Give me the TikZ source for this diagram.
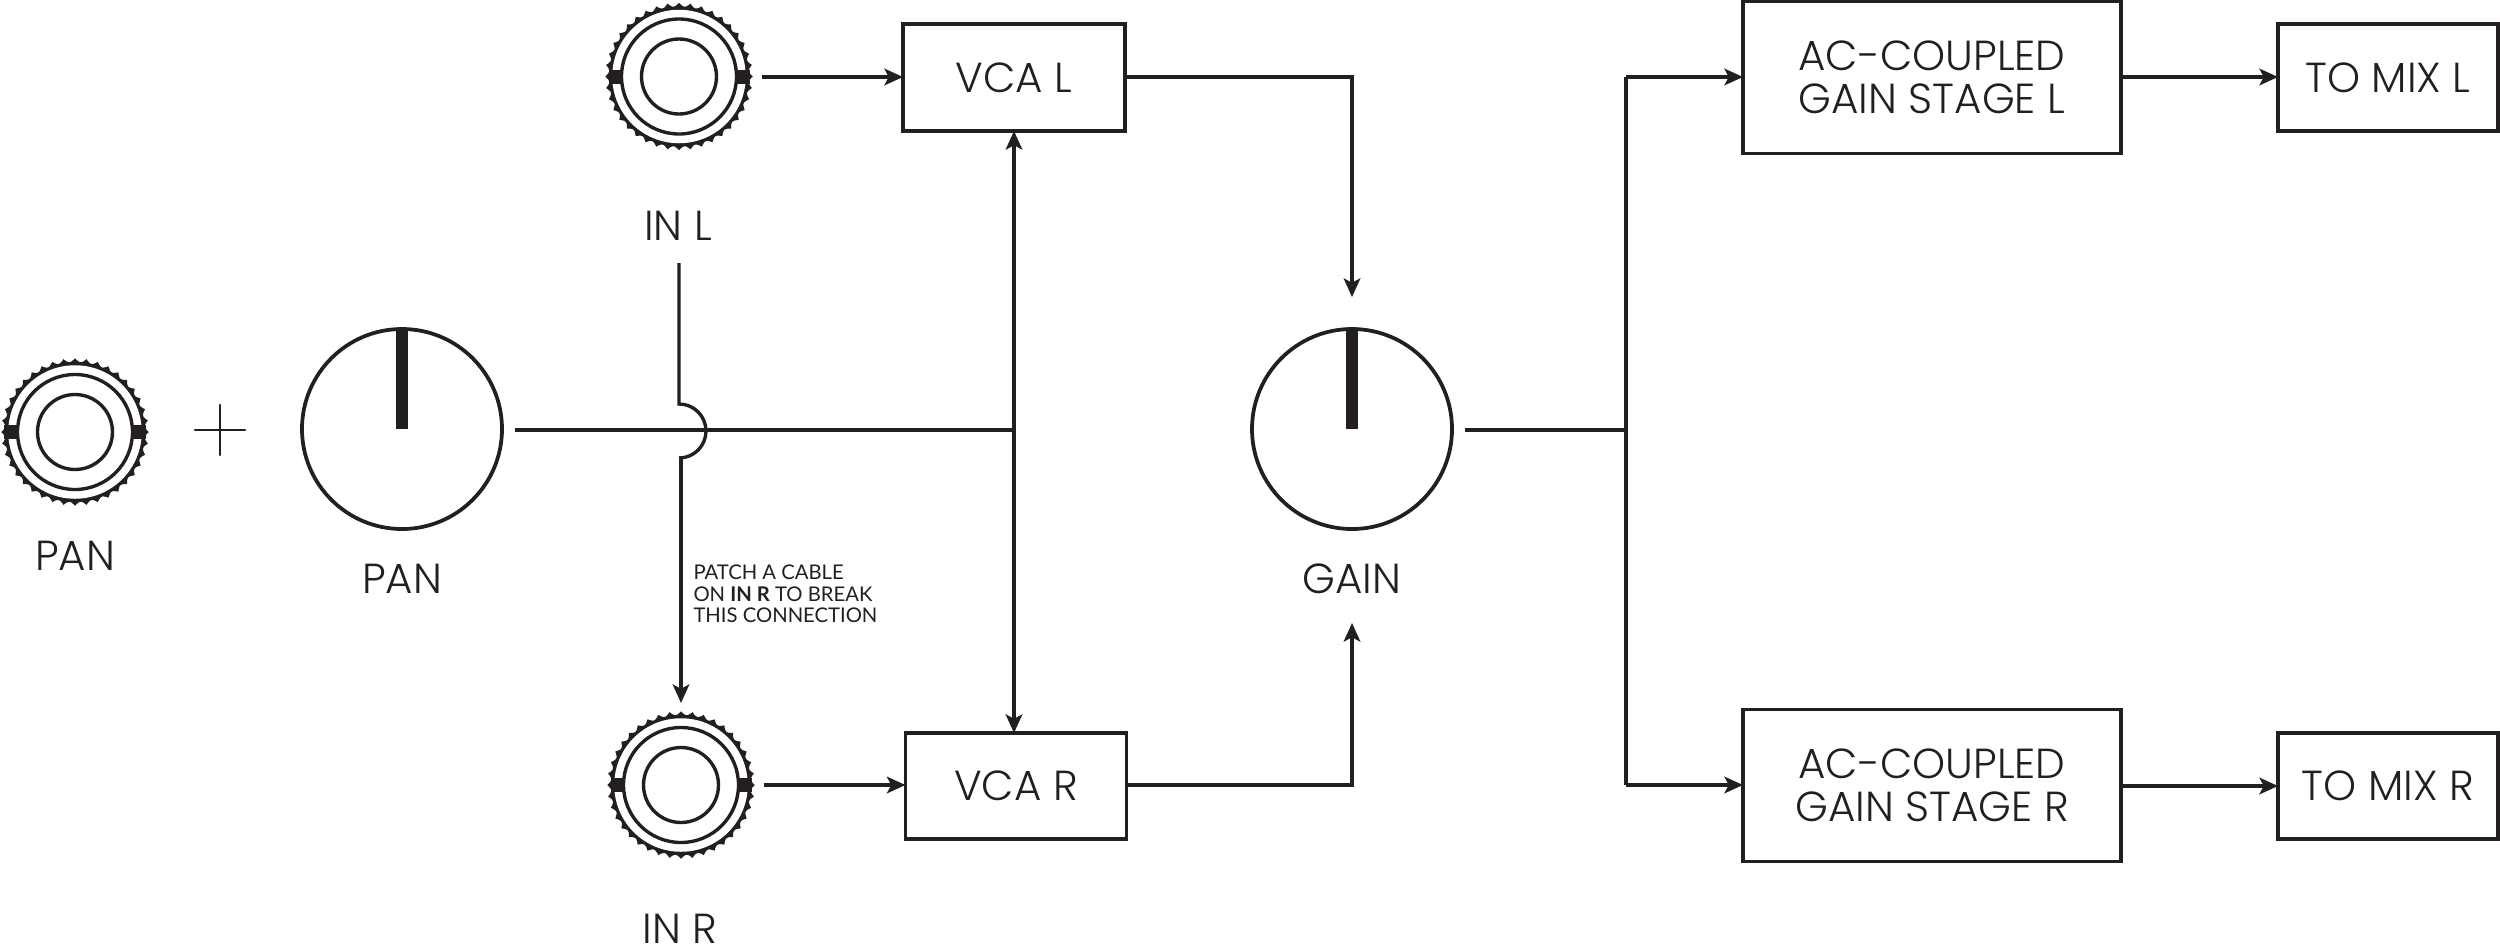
\documentclass[tikz,border=0pt]{standalone}
\usepackage{fontspec}
\setmainfont{Poppins}[UprightFont=* Light,BoldFont=* SemiBold]
\newfontfamily\notefont{Lato}[BoldFont=* Bold]
\usetikzlibrary{arrows.meta}
\definecolor{ink}{HTML}{231F20}
\tikzset{
  wire/.style={draw=ink,line width=1.35pt,line join=miter},
  arrowwire/.style={wire,-{Stealth[length=7.4pt,width=6.6pt,inset=1.7pt]}},
  biwire/.style={wire,{Stealth[length=7.4pt,width=6.6pt,inset=1.7pt]}-{Stealth[length=7.4pt,width=6.6pt,inset=1.7pt]}},
  blockbox/.style={draw=ink,line width=1.25pt,inner sep=0pt,outer sep=0pt,text=ink,align=center,font=\fontsize{16.8}{17.2}\selectfont},
  knobdial/.style={circle,draw=ink,line width=1.5pt,minimum size=80pt,inner sep=0pt,outer sep=0pt},
  caption/.style={text=ink,inner sep=0pt,font=\fontsize{16.8}{17.2}\selectfont,text height=11.8pt,text depth=0pt},
  jacknode/.style={circle,minimum size=56pt,inner sep=0pt,outer sep=0pt},
}
\newcommand{\jackglyph}[2]{%
  \begin{scope}[shift={(#1)}]
    \fill[ink,domain=0:360,samples=361] plot ({(29.5pt-1.5pt*abs(sin(20*\x)))*cos(\x)},{(29.5pt-1.5pt*abs(sin(20*\x)))*sin(\x)}) -- cycle;
    \fill[white] (0,0) circle[radius=26.7pt];
    \draw[ink,line width=1.35pt] (0,0) circle[radius=23pt];
    \node[jacknode,draw=ink,line width=1.35pt,minimum size=30pt] (#2) at (0,0) {};
    \fill[ink] (-28.2pt,-2.8pt) rectangle (-22.6pt,2.8pt);
    \fill[ink] (22.6pt,-2.8pt) rectangle (28.2pt,2.8pt);
  \end{scope}}
\begin{document}
\begin{tikzpicture}[x=0.4pt,y=-0.4pt]
\useasboundingbox (0,0) rectangle (2500,948);
% jacks
\jackglyph{75,432}{jpan}
\jackglyph{679,76.5}{jinl}
\jackglyph{681,785}{jinr}
% plus
\draw[ink,line width=1pt,line cap=round] (195,430) -- (245,430);
\draw[ink,line width=1pt,line cap=round] (220,405) -- (220,455);
% knobs
\node[knobdial] (kpan) at (402,429) {};
\node[knobdial] (kgain) at (1352,429) {};
\fill[ink] (396,329) rectangle (408,429);
\fill[ink] (1346,329) rectangle (1358,429);
% boxes
\node[blockbox,minimum width=88.8pt,minimum height=42.8pt] (vcal) at (1014,77.5) {VCA L};
\node[blockbox,minimum width=88.4pt,minimum height=42.4pt] (vcar) at (1016,786) {VCA R};
\node[blockbox,minimum width=151.2pt,minimum height=60.8pt] (acl) at (1932,77.5) {AC-COUPLED\\GAIN STAGE L};
\node[blockbox,minimum width=151.2pt,minimum height=60.8pt] (acr) at (1932,785.5) {AC-COUPLED\\GAIN STAGE R};
\node[blockbox,minimum width=88pt,minimum height=42.8pt] (mixl) at (2388,77.5) {TO MIX L};
\node[blockbox,minimum width=88pt,minimum height=42.4pt] (mixr) at (2388,786) {TO MIX R};
% captions
\node[caption] (lpan) at (75,556) {PAN};
\node[caption] (lpank) at (402,579) {PAN};
\node[caption] (lgain) at (1352,579) {GAIN};
\node[caption] (linl) at (678,226) {IN L};
\node[caption] (linr) at (680,929) {IN R};
\node[text=ink,inner sep=0pt,anchor=west,align=left,font=\notefont\fontsize{8.1}{8.6}\selectfont] (note) at (693,594) {PATCH A CABLE\\ON \textbf{IN R} TO BREAK\\THIS CONNECTION};
% free ends
\coordinate (panout) at (515,430);
\coordinate (junc) at (1014,430);
\coordinate (inlout) at (762,77);
\coordinate (inrout) at (764,785);
\coordinate (bridgetop) at (679,404);
\coordinate (breakstart) at (679,263);
\coordinate (bridgelow) at (681,458);
\coordinate (breakend) at (681,703);
\coordinate (gainin) at (1352,297);
\coordinate (gainin2) at (1352,623);
\coordinate (lcorner) at (1352,77);
\coordinate (rcorner) at (1352,785);
\coordinate (gainout) at (1465,430);
\coordinate (split) at (1626,430);
\coordinate (splitl) at (1626,77);
\coordinate (splitr) at (1626,785);
% connectors
\draw[wire] (panout) -- (junc);
\draw[biwire] (vcal.south -| junc) -- (vcar.north -| junc);
\draw[arrowwire] (inlout) -- (vcal.west |- inlout);
\draw[arrowwire] (inrout) -- (vcar.west |- inrout);
\draw[wire] (breakstart) -- (bridgetop) arc[start angle=90,end angle=-90,radius=10.8pt];
\draw[arrowwire] (bridgelow) -- (breakend);
\draw[arrowwire] (vcal.east |- lcorner) -- (lcorner) -- (gainin);
\draw[arrowwire] (vcar.east |- rcorner) -- (rcorner) -- (gainin2);
\draw[wire] (gainout) -- (split);
\draw[wire] (splitl) -- (splitr);
\draw[arrowwire] (splitl) -- (acl.west |- splitl);
\draw[arrowwire] (splitr) -- (acr.west |- splitr);
\draw[arrowwire] (acl.east |- inlout) -- (mixl.west |- inlout);
\draw[arrowwire] (acr.east |- mixr.west) -- (mixr.west);
\end{tikzpicture}
\end{document}
